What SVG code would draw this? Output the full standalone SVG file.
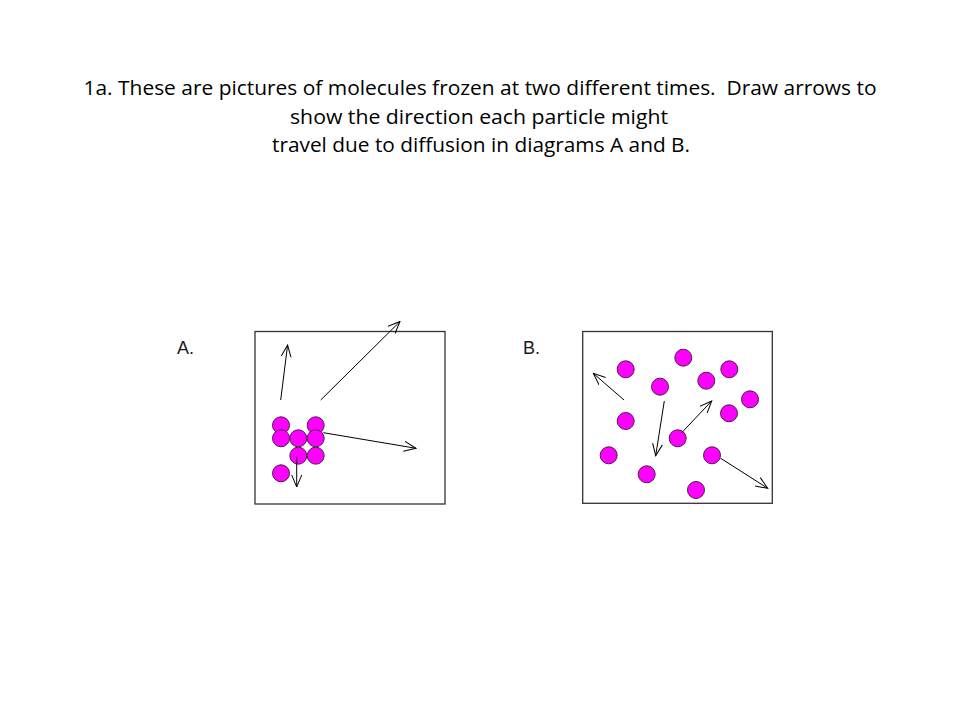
<svg xmlns="http://www.w3.org/2000/svg" width="960" height="720" viewBox="0 0 960 720">
<style>
.title{font-family:"Open Sans","Liberation Sans",sans-serif;font-size:20px;fill:#000;text-anchor:middle}
.lbl{font-family:"Liberation Sans",Arial,sans-serif;font-size:18px;fill:#1a1a1a}
.box{fill:#fff;stroke:#333;stroke-width:1.3}
.p{fill:#ff00ff;stroke:#4a204a;stroke-width:1}
.arr{stroke:#000;stroke-width:1;fill:none;marker-end:url(#ah)}
</style>
<defs>
<marker id="ah" viewBox="0 0 13 11" refX="12" refY="5.5" markerWidth="13" markerHeight="11" markerUnits="userSpaceOnUse" orient="auto">
<polyline points="0,0.5 12,5.5 0,10.5" fill="none" stroke="#000" stroke-width="1"/>
</marker>
</defs>
<rect width="960" height="720" fill="#fff"/>
<g id="title">
<text class="title" x="480" y="95" textLength="793" lengthAdjust="spacingAndGlyphs">1a. These are pictures of molecules frozen at two different times.&#160; Draw arrows to</text>
<text class="title" x="479" y="123.5" textLength="378" lengthAdjust="spacingAndGlyphs">show the direction each particle might</text>
<text class="title" x="481" y="152" textLength="418" lengthAdjust="spacingAndGlyphs">travel due to diffusion in diagrams A and B.</text>
</g>
<g id="diagramA">
<text class="lbl" x="177" y="354">A.</text>
<rect class="box" x="255" y="331.5" width="190" height="172.5"/>
<circle class="p" cx="281" cy="425.3" r="8.5"/>
<circle class="p" cx="281" cy="438.3" r="8.5"/>
<circle class="p" cx="315.7" cy="425.3" r="8.5"/>
<circle class="p" cx="315.7" cy="438.3" r="8.5"/>
<circle class="p" cx="298.3" cy="438.3" r="8.5"/>
<circle class="p" cx="298.3" cy="455.7" r="8.5"/>
<circle class="p" cx="315.7" cy="455.7" r="8.5"/>
<circle class="p" cx="281" cy="473.3" r="8.5"/>
</g>
<g id="diagramB">
<text class="lbl" x="523" y="354">B.</text>
<rect class="box" x="582.7" y="331.5" width="189.6" height="171.8"/>
<circle class="p" cx="625.7" cy="369.3" r="8.5"/>
<circle class="p" cx="683.3" cy="357.7" r="8.5"/>
<circle class="p" cx="660" cy="386.7" r="8.5"/>
<circle class="p" cx="706.3" cy="380.7" r="8.5"/>
<circle class="p" cx="729.3" cy="369.3" r="8.5"/>
<circle class="p" cx="750" cy="399.3" r="8.5"/>
<circle class="p" cx="729" cy="413.3" r="8.5"/>
<circle class="p" cx="625.7" cy="421" r="8.5"/>
<circle class="p" cx="677.7" cy="438.3" r="8.5"/>
<circle class="p" cx="608.7" cy="455.3" r="8.5"/>
<circle class="p" cx="712" cy="455.3" r="8.5"/>
<circle class="p" cx="646.7" cy="474.3" r="8.5"/>
<circle class="p" cx="696" cy="490" r="8.5"/>
</g>
<g id="connectors">
<line class="arr" x1="280.7" y1="400" x2="287.6" y2="345"/>
<line class="arr" x1="320.7" y1="400" x2="400" y2="321.5"/>
<line class="arr" x1="323.3" y1="432.7" x2="416" y2="448.3"/>
<line class="arr" x1="296.7" y1="456.7" x2="296.7" y2="487"/>
<line class="arr" x1="624" y1="400" x2="593.3" y2="373.3"/>
<line class="arr" x1="664.3" y1="401" x2="655.7" y2="455.7"/>
<line class="arr" x1="681.7" y1="432.7" x2="711.7" y2="401"/>
<line class="arr" x1="720.7" y1="458.3" x2="767.7" y2="488.3"/>
</g>
</svg>
